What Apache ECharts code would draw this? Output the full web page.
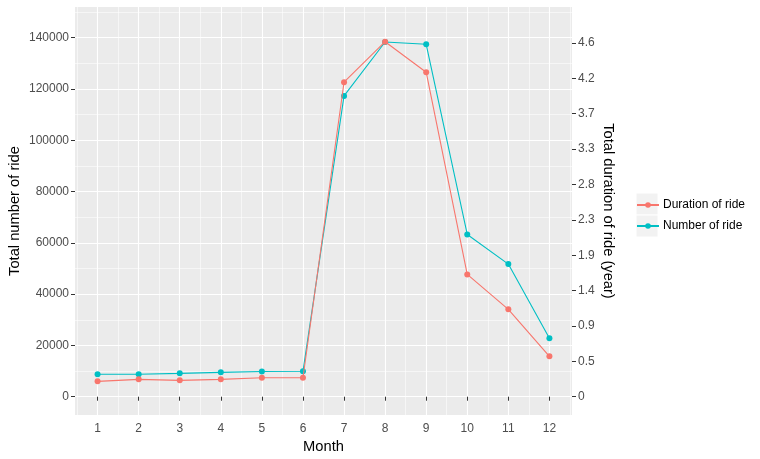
<!DOCTYPE html>
<html>
<head>
<meta charset="utf-8">
<script src="https://cdn.jsdelivr.net/npm/echarts@6/dist/echarts.min.js"></script>
<style>
html,body{margin:0;padding:0;background:#fff;}
#c{width:760px;height:459px;}
</style>
</head>
<body>
<div id="c"></div>
<script>
// ---- data ----
const months = [1, 2, 3, 4, 5, 6, 7, 8, 9, 10, 11, 12];
const numberOfRide = [8730, 8730, 9100, 9500, 9800, 9900, 117260, 138300, 137400, 63260, 51700, 22750];
const durationOfRideYears = [0.202, 0.228, 0.215, 0.228, 0.249, 0.249, 4.130, 4.662, 4.261, 1.606, 1.147, 0.530];
const leftTicks = [0, 20000, 40000, 60000, 80000, 100000, 120000, 140000];
const leftMinorTicks = [10000, 30000, 50000, 70000, 90000, 110000, 130000, 150000];
const rightTickLabels = ['0', '0.5', '0.9', '1.4', '1.9', '2.3', '2.8', '3.3', '3.7', '4.2', '4.6'];
const rightTickStep = 0.4645;
const xMinorTicks = [0.5, 1.5, 2.5, 3.5, 4.5, 5.5, 6.5, 7.5, 8.5, 9.5, 10.5, 11.5, 12.5];

// ---- scales ----
const leftMin = -7130, leftMax = 151930;
const k = 4.645 / 137900; // left units -> years
const rightMin = leftMin * k, rightMax = leftMax * k;
const rightTicks = rightTickLabels.map((_, i) => +(i * rightTickStep).toFixed(4));

const FONT = 'Liberation Sans, Arial, sans-serif';
const RED = '#F8766D', CYAN = '#00BFC4';

const chart = echarts.init(document.getElementById('c'), null, {renderer: 'canvas'});
chart.setOption({
  animation: false,
  backgroundColor: '#ffffff',
  textStyle: {fontFamily: FONT},
  grid: {left: 75, right: 188, top: 7, bottom: 44, show: true, backgroundColor: '#EBEBEB', borderWidth: 0, containLabel: false, outerBoundsMode: 'none'},
  graphic: [
    {type: 'rect', shape: {x: 636, y: 193, width: 22, height: 22}, style: {fill: '#F2F2F2', stroke: '#ffffff', lineWidth: 1}, z: 0},
    {type: 'rect', shape: {x: 636, y: 215, width: 22, height: 22}, style: {fill: '#F2F2F2', stroke: '#ffffff', lineWidth: 1}, z: 0}
  ],
  legend: {
    orient: 'vertical', left: 636, top: 199, padding: 0,
    itemWidth: 22, itemHeight: 7, itemGap: 9,
    data: ['Duration of ride', 'Number of ride'],
    textStyle: {fontFamily: FONT, fontSize: 12, color: '#000000', padding: [0, 0, 0, -1]},
    z: 5
  },
  xAxis: [
    {
      type: 'value', min: 0.45, max: 12.55, position: 'bottom',
      name: 'Month', nameLocation: 'middle', nameGap: 24,
      nameTextStyle: {fontFamily: FONT, fontSize: 14.7, color: '#000000'},
      axisLine: {show: false},
      axisTick: {show: true, length: 4, customValues: months, lineStyle: {color: '#333333', width: 1}},
      axisLabel: {customValues: months, color: '#4D4D4D', fontSize: 12, margin: 8, fontFamily: FONT, formatter: v => String(v)},
      splitLine: {show: true, lineStyle: {color: '#FFFFFF', width: 1.1}}
    },
    {
      type: 'value', min: 0.45, max: 12.55, position: 'bottom',
      axisLine: {show: false},
      axisTick: {show: false, customValues: xMinorTicks},
      axisLabel: {show: false, customValues: xMinorTicks},
      splitLine: {show: true, lineStyle: {color: '#FFFFFF', width: 0.55}}
    }
  ],
  yAxis: [
    {
      type: 'value', min: leftMin, max: leftMax, position: 'left',
      name: 'Total number of ride', nameLocation: 'middle', nameGap: 53, nameMoveOverlap: false,
      nameTextStyle: {fontFamily: FONT, fontSize: 14.7, color: '#000000'},
      axisLine: {show: false},
      axisTick: {show: true, length: 4, customValues: leftTicks, lineStyle: {color: '#333333', width: 1}},
      axisLabel: {customValues: leftTicks, color: '#4D4D4D', fontSize: 12, margin: 6, fontFamily: FONT, formatter: v => String(v)},
      splitLine: {show: true, lineStyle: {color: '#FFFFFF', width: 1.1}}
    },
    {
      type: 'value', min: rightMin, max: rightMax, position: 'right',
      name: 'Total duration of ride (year)', nameLocation: 'middle', nameGap: 29, nameRotate: -90, nameMoveOverlap: false,
      nameTextStyle: {fontFamily: FONT, fontSize: 14.7, color: '#000000'},
      axisLine: {show: false},
      axisTick: {show: true, length: 4, customValues: rightTicks, lineStyle: {color: '#333333', width: 1}},
      axisLabel: {
        customValues: rightTicks, color: '#4D4D4D', fontSize: 12, margin: 6, fontFamily: FONT,
        formatter: v => rightTickLabels[Math.round(v / rightTickStep)]
      },
      splitLine: {show: false}
    },
    {
      type: 'value', min: leftMin, max: leftMax, position: 'left',
      axisLine: {show: false},
      axisTick: {show: false, customValues: leftMinorTicks},
      axisLabel: {show: false, customValues: leftMinorTicks},
      splitLine: {show: true, lineStyle: {color: '#FFFFFF', width: 0.55}}
    }
  ],
  series: [
    {
      name: 'Number of ride', type: 'line', xAxisIndex: 0, yAxisIndex: 0,
      data: months.map((m, i) => [m, numberOfRide[i]]),
      symbol: 'circle', symbolSize: 6, showSymbol: true,
      lineStyle: {color: CYAN, width: 1.1}, itemStyle: {color: CYAN}, z: 3
    },
    {
      name: 'Duration of ride', type: 'line', xAxisIndex: 0, yAxisIndex: 1,
      data: months.map((m, i) => [m, durationOfRideYears[i]]),
      symbol: 'circle', symbolSize: 6, showSymbol: true,
      lineStyle: {color: RED, width: 1.1}, itemStyle: {color: RED}, z: 4
    }
  ]
});
</script>
</body>
</html>
